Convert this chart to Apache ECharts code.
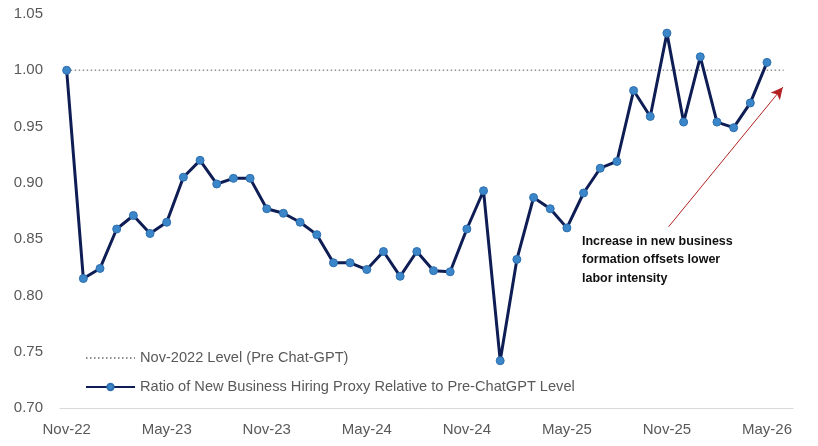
<!DOCTYPE html>
<html>
<head>
<meta charset="utf-8">
<script src="https://cdn.jsdelivr.net/npm/echarts@6/dist/echarts.min.js"></script>
<style>
html,body{margin:0;padding:0;background:#fff;}
#chart{width:818px;height:446px;}
</style>
</head>
<body>
<div id="chart"></div>
<script>
// ---- data ----
const hiringRatio = [
  1.000, 0.815, 0.824, 0.859, 0.871, 0.855, 0.865, 0.905, 0.920, 0.899,
  0.904, 0.904, 0.877, 0.873, 0.865, 0.854, 0.829, 0.829, 0.823, 0.839,
  0.817, 0.839, 0.822, 0.821, 0.859, 0.893, 0.742, 0.832, 0.887, 0.877,
  0.860, 0.891, 0.913, 0.919, 0.982, 0.959, 1.033, 0.954, 1.012, 0.954,
  0.949, 0.971, 1.007
]; // monthly, Nov-22 .. May-26
const xTickIdx = [0, 6, 12, 18, 24, 30, 36, 42];
const xTickLabels = ['Nov-22', 'May-23', 'Nov-23', 'May-24', 'Nov-24', 'May-25', 'Nov-25', 'May-26'];
const yTicks = [0.70, 0.75, 0.80, 0.85, 0.90, 0.95, 1.00, 1.05];
const refLevel = 1.00;
const refSpan = [0, 43]; // month index range of the Nov-2022 level line
const arrowFrom = [36.1, 0.861];
const arrowTo = [42.95, 0.985];
const seriesNames = ['Nov-2022 Level (Pre Chat-GPT)', 'Ratio of New Business Hiring Proxy Relative to Pre-ChatGPT Level'];
const annotation = 'Increase in new business\nformation offsets lower\nlabor intensity';

// ---- chart ----
const FONT = 'Liberation Sans';
const chart = echarts.init(document.getElementById('chart'), null, {renderer: 'canvas'});
chart.setOption({
  animation: false,
  backgroundColor: '#ffffff',
  grid: {left: 60, right: 25, top: 14, bottom: 38, containLabel: false},
  xAxis: {
    type: 'value',
    min: -0.4,
    max: 43.56,
    splitLine: {show: false},
    axisTick: {show: false},
    axisLine: {show: true, lineStyle: {color: '#D9D9D9', width: 1}},
    axisLabel: {
      customValues: xTickIdx,
      formatter: v => xTickLabels[xTickIdx.indexOf(v)] || '',
      color: '#595959',
      fontFamily: FONT,
      fontSize: 15,
      margin: 14
    }
  },
  yAxis: {
    type: 'value',
    min: yTicks[0],
    max: yTicks[yTicks.length - 1],
    interval: 0.05,
    splitLine: {show: false},
    axisLine: {show: false},
    axisTick: {show: false},
    axisLabel: {
      formatter: v => v.toFixed(2),
      color: '#595959',
      fontFamily: FONT,
      fontSize: 15,
      margin: 17
    }
  },
  legend: {
    orient: 'vertical',
    left: 80,
    top: 344,
    itemWidth: 49,
    itemHeight: 8,
    itemGap: 11,
    data: [
      {name: seriesNames[0], itemStyle: {opacity: 0}},
      {name: seriesNames[1]}
    ],
    textStyle: {color: '#595959', fontFamily: FONT, fontSize: 14.6, lineHeight: 18}
  },
  series: [
    {
      name: seriesNames[0],
      type: 'line',
      data: refSpan.map(i => [i, refLevel]),
      symbol: 'none',
      lineStyle: {color: '#8C8C8C', width: 1.5, type: [1.5, 2.5]},
      itemStyle: {color: '#8C8C8C'},
      silent: true,
      z: 1,
      markLine: {
        silent: true,
        symbol: ['none', 'arrow'],
        symbolSize: [9, 12],
        label: {show: false},
        lineStyle: {color: '#B22222', width: 1, type: 'solid'},
        data: [[{coord: arrowFrom}, {coord: arrowTo}]]
      }
    },
    {
      name: seriesNames[1],
      type: 'line',
      data: hiringRatio.map((v, i) => [i, v]),
      symbol: 'circle',
      symbolSize: 8,
      showAllSymbol: true,
      lineStyle: {color: '#0E1E55', width: 3},
      itemStyle: {color: '#3A86C8', borderColor: '#2E6FB0', borderWidth: 1},
      z: 3
    }
  ],
  graphic: [
    {
      type: 'text',
      left: 582,
      top: 232,
      style: {
        text: annotation,
        font: 'bold 12.5px "Liberation Sans"',
        lineHeight: 18.5,
        fill: '#111111'
      }
    }
  ]
});
</script>
</body>
</html>
